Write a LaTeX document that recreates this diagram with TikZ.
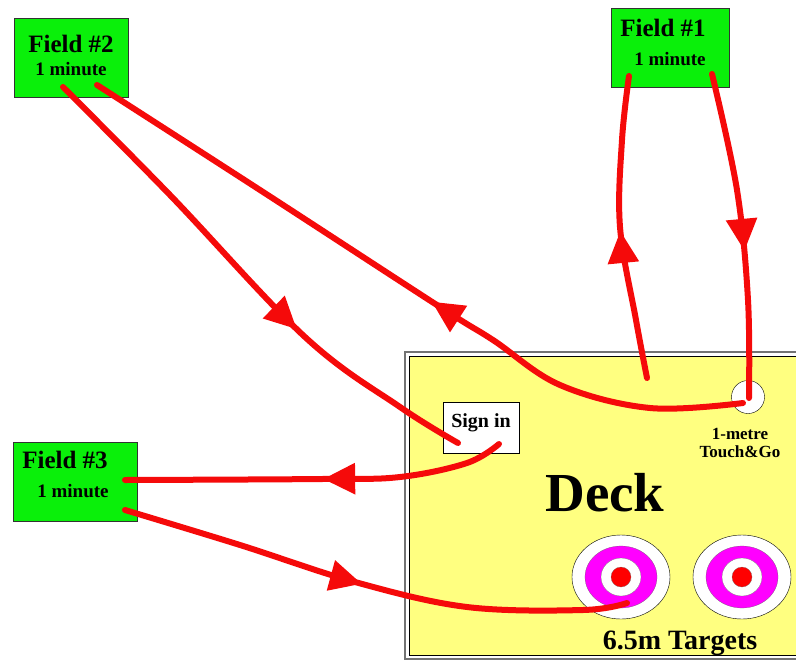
\documentclass[tikz,border=0pt]{standalone}
\usepackage{fontspec}
\setmainfont{Liberation Serif}
\usetikzlibrary{arrows.meta,positioning,decorations.markings}

\definecolor{fieldgreen}{RGB}{10,240,10}
\definecolor{deckyellow}{RGB}{255,255,128}
\definecolor{linered}{RGB}{245,10,10}
\definecolor{ringmagenta}{RGB}{255,0,255}

\begin{document}
\begin{tikzpicture}[
    x=1pt, y=-1pt,
    field/.style={draw=black!80, fill=fieldgreen, align=center, inner sep=0pt,
                  font=\fontsize{25}{26}\selectfont\bfseries, minimum width=#1},
    field/.default=115pt,
    small/.style={font=\fontsize{17}{19}\selectfont\bfseries, align=center},
    flow/.style={draw=linered, line width=6pt, line cap=round, line join=round,
                 postaction={decorate},
                 decoration={markings, mark=at position #1 with
                   {\arrow[linered]{Triangle[length=32pt, width=30pt]}}}},
  ]
  \useasboundingbox (0,0) rectangle (796,662);

  % Deck
  \draw[black!55, line width=1.5pt] (405,352) rectangle (815,659);
  \filldraw[fill=deckyellow, draw=black, line width=0.8pt] (409,356) rectangle (815,655);

  \node[draw, fill=white, minimum width=76pt, minimum height=51pt,
        font=\fontsize{20}{22}\selectfont\bfseries, anchor=north] (signin) at (481,402)
    {\raisebox{14pt}{Sign in}};

  \node[circle, draw, fill=white, minimum size=33pt, inner sep=0pt] (touch) at (748,397) {};
  \node[small] (touchlbl) at (740,443) {1-metre\\[-1pt]Touch\&Go};

  \node[font=\fontsize{55}{55}\selectfont\bfseries] (deck) at (605,493) {Deck};

  % Targets
  \foreach \name/\cx in {targetA/621, targetB/742} {
    \coordinate (\name) at (\cx,577);
    \filldraw[fill=white, draw=black, thin] (\name) ellipse [x radius=49, y radius=42];
    \filldraw[fill=ringmagenta, draw=black!60, very thin] (\name) ellipse [x radius=36, y radius=31];
    \filldraw[fill=white, draw=black!60, very thin] (\name) ellipse [x radius=20, y radius=19];
    \filldraw[fill=red, draw=black!60, very thin] (\name) circle [radius=10];
  }
  \node[font=\fontsize{28}{28}\selectfont\bfseries] (targetlbl) at (680,643) {6.5m Targets};

  % Fields
  \node[field=114pt, minimum height=79pt, text depth=5pt] (field2) at (71,58)
    {Field \#2\\[-3pt]
     {\fontsize{19}{21}\selectfont 1 minute}};
  \node[field=118pt, minimum height=79pt, text depth=11pt] (field1) at (670,48)
    {Field \#1\hspace*{14pt}\\[3pt]
     {\fontsize{19}{21}\selectfont 1 minute}};
  \node[field=124pt, minimum height=79pt, text depth=16pt] (field3) at (75,482)
    {Field \#3\hspace*{20pt}\\[3pt]
     {\fontsize{19}{21}\selectfont 1 minute\hspace*{4pt}}};

  % End points of the routes
  \coordinate (f2left)  at (63,87);
  \coordinate (f2right) at (97,85);
  \coordinate (f1left)  at (629,76);
  \coordinate (f1right) at (712,74);
  \coordinate (f3top)   at (125,480);
  \coordinate (f3low)   at (125,510);
  \coordinate (signA)   at (458,443);
  \coordinate (signB)   at (499,444);
  \coordinate (deckup)  at (647,378);
  \coordinate (touchin) at (743,403);
  \coordinate (touchtop) at (749,398);
  \coordinate (aimA)    at (627,603);

  % Routes
  \draw[flow=0.63] plot[smooth, tension=0.6] coordinates
    {(f2left) (170,195) (305,337) (400,407) (signA)};
  \draw[flow=0.46] plot[smooth, tension=0.6] coordinates
    {(touchin) (650,408) (560,385) (493,340) (440,307) (260,190) (f2right)};
  \draw[flow=0.49] plot[smooth, tension=0.6] coordinates
    {(deckup) (636,320) (620,227) (622,140) (f1left)};
  \draw[flow=0.55] plot[smooth, tension=0.6] coordinates
    {(f1right) (737,190) (748,300) (touchtop)};
  \draw[flow=0.48] plot[smooth, tension=0.6] coordinates
    {(signB) (467,463) (400,477) (322,479) (f3top)};
  \draw[flow=0.48] plot[smooth, tension=0.6] coordinates
    {(f3low) (240,545) (355,582) (467,607) (583,610) (aimA)};
\end{tikzpicture}
\end{document}
